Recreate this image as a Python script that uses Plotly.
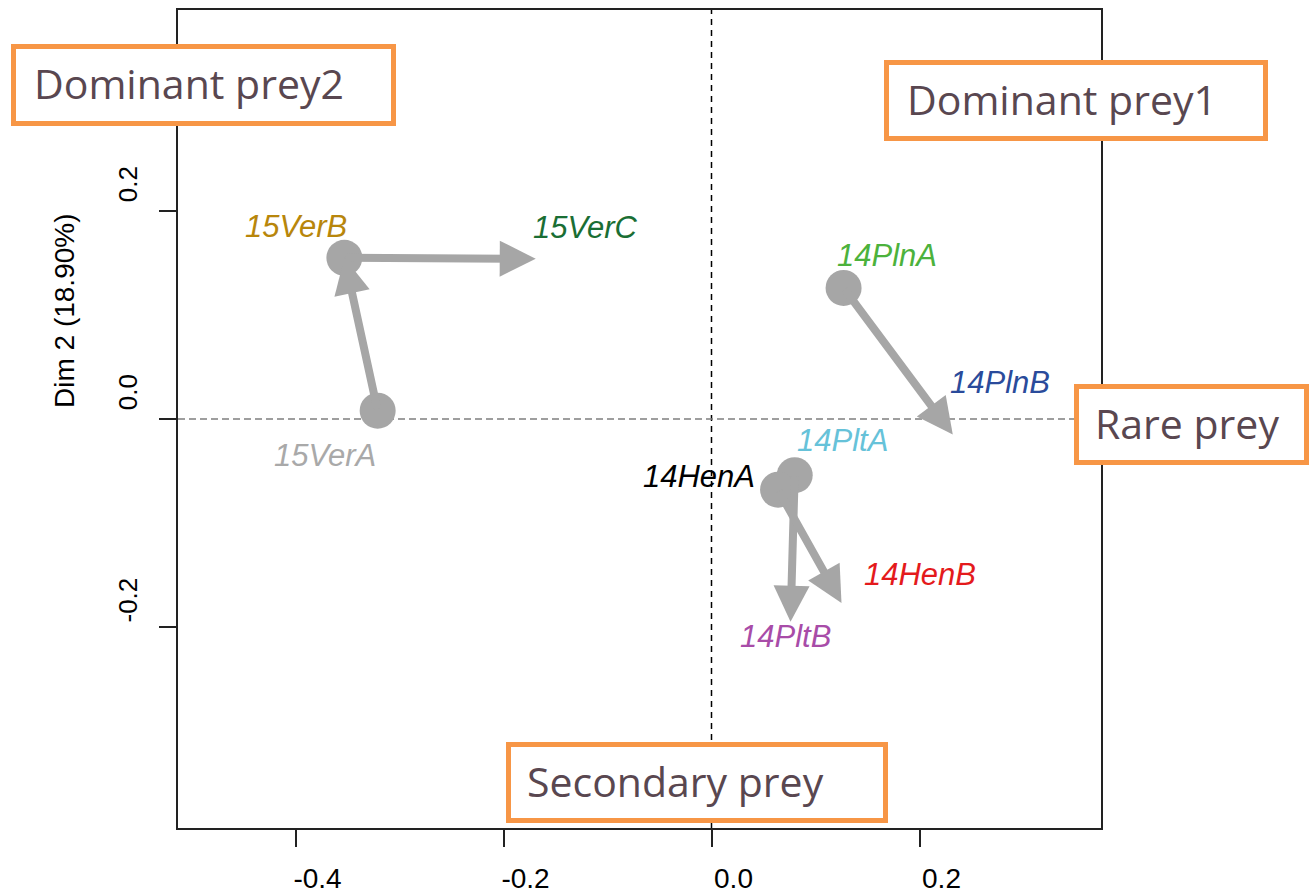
import plotly.graph_objects as go

# Sample scores on the first two dimensions
samples = ["15VerA", "15VerB", "15VerC", "14PlnA", "14PlnB",
           "14PltA", "14PltB", "14HenA", "14HenB"]
dim1 = [-0.321, -0.353, -0.169, 0.127, 0.232, 0.080, 0.076, 0.064, 0.125]
dim2 = [0.008, 0.155, 0.154, 0.126, -0.015, -0.054, -0.195, -0.068, -0.177]
label_colors = ["#a9a9a9", "#b8860b", "#1a6e34", "#4cb23c", "#2a4b9b",
                "#66c2d9", "#a84ca8", "#000000", "#e41a1c"]

# Trajectories between sampling occasions (from -> to)
moves = [("15VerA", "15VerB"), ("15VerB", "15VerC"), ("14PlnA", "14PlnB"),
         ("14PltA", "14PltB"), ("14HenA", "14HenB")]

# Prey category boxes
prey_labels = ["Dominant prey2", "Dominant prey1", "Rare prey", "Secondary prey"]

x_ticks = [-0.4, -0.2, 0.0, 0.2]
x_ticktext = ["-0.4", "-0.2", "0.0", "0.2"]
y_ticks = [-0.2, 0.0, 0.2]
y_ticktext = ["-0.2", "0.0", "0.2"]
y_title = "Dim 2 (18.90%)"

# ---- layout geometry (pixels) ----
W, H = 1310, 893
ML, MR, MT, MB = 178, 209, 10, 65
PW, PH = W - ML - MR, H - MT - MB


def px2x(px):
    return (px - ML) / PW


def py2y(py):
    return (H - MB - py) / PH


# label offsets in pixels (dx right, dy up) relative to each sample point
label_offsets = {
    "15VerA": (-53, -45), "15VerB": (-48, 31), "15VerC": (50, 31),
    "14PlnA": (43, 32), "14PlnB": (47, 52), "14PltA": (48, 35),
    "14PltB": (-5, -15), "14HenA": (-79, 13), "14HenB": (78, 29),
}

# boxes: (left, top, right, bottom) as border centre lines, text left edge
box_geom = [
    (13.5, 46.5, 393.5, 123.5, 32),
    (886.5, 62.5, 1265.5, 138.5, 905),
    (1076.5, 386.5, 1306.5, 462.5, 1093),
    (508.5, 744.5, 885.5, 820.5, 525),
]

GREY = "#a6a6a6"
ORANGE = "#f79646"
BOX_TEXT = "#594750"

idx = {s: i for i, s in enumerate(samples)}
starts = sorted({a for a, _ in moves}, key=lambda s: idx[s])

fig = go.Figure()

# starting points of each trajectory
fig.add_trace(go.Scatter(
    x=[dim1[idx[s]] for s in starts],
    y=[dim2[idx[s]] for s in starts],
    mode="markers",
    marker=dict(size=36, color=GREY, line=dict(width=0)),
    hoverinfo="skip", showlegend=False,
))

annotations = []
for a, b in moves:
    annotations.append(dict(
        x=dim1[idx[b]], y=dim2[idx[b]], xref="x", yref="y",
        ax=dim1[idx[a]], ay=dim2[idx[a]], axref="x", ayref="y",
        text="", showarrow=True, arrowhead=2, arrowwidth=8,
        arrowsize=0.9, arrowcolor=GREY, standoff=0, startstandoff=0,
    ))

for s, c in zip(samples, label_colors):
    dx, dy = label_offsets[s]
    annotations.append(dict(
        x=dim1[idx[s]], y=dim2[idx[s]], xref="x", yref="y",
        text=s, showarrow=False, xshift=dx, yshift=dy,
        xanchor="center", yanchor="middle",
        font=dict(family="Liberation Sans, Arial", size=31, color=c,
                  style="italic"),
    ))

shapes = [
    dict(type="line", xref="x", yref="paper", x0=0, x1=0, y0=0, y1=1,
         line=dict(color="black", width=1.5, dash="6px,5px"), layer="below"),
    dict(type="line", xref="paper", yref="y", x0=0, x1=1, y0=0, y1=0,
         line=dict(color="#7f7f7f", width=1.5, dash="7px,4px"), layer="below"),
]

for text, (l, t, r, b, tx) in zip(prey_labels, box_geom):
    shapes.append(dict(
        type="rect", xref="paper", yref="paper",
        x0=px2x(l), x1=px2x(r), y0=py2y(b), y1=py2y(t),
        line=dict(color=ORANGE, width=5), fillcolor="white", layer="above",
    ))
    annotations.append(dict(
        xref="paper", yref="paper", x=px2x(tx), y=py2y((t + b) / 2 - 2),
        xanchor="left", yanchor="middle", text=text, showarrow=False,
        font=dict(family="Open Sans", size=41, color=BOX_TEXT),
    ))

annotations.append(dict(
    xref="paper", yref="paper", x=px2x(65), y=py2y(311),
    xanchor="center", yanchor="middle", text=y_title, textangle=-90,
    showarrow=False, font=dict(family="Liberation Sans, Arial", size=28,
                               color="black"),
))

axis_common = dict(
    showgrid=False, zeroline=False, showline=True, mirror=True,
    linecolor="#222222", linewidth=1.5, ticks="outside", ticklen=17,
    tickwidth=1.5, tickcolor="#222222", automargin=False,
)

fig.update_layout(
    width=W, height=H, autosize=False,
    margin=dict(l=ML, r=MR, t=MT, b=MB, pad=0),
    paper_bgcolor="white", plot_bgcolor="white",
    xaxis=dict(range=[(ML - 711.5) / 1040, (W - MR - 711.5) / 1040],
               tickvals=x_ticks, ticktext=x_ticktext,
               tickfont=dict(family="Liberation Sans, Arial", size=28,
                             color="black"),
               ticklabelshift=22, ticklabelstandoff=8, **axis_common),
    yaxis=dict(range=[(419 - (H - MB)) / 1040, (419 - MT) / 1040],
               tickvals=y_ticks, ticktext=y_ticktext, tickangle=-90,
               tickfont=dict(family="Liberation Sans, Arial", size=26,
                             color="black"),
               ticklabelshift=-23, ticklabelstandoff=12, **axis_common),
    shapes=shapes, annotations=annotations, showlegend=False,
)

fig.write_html("out.html")
